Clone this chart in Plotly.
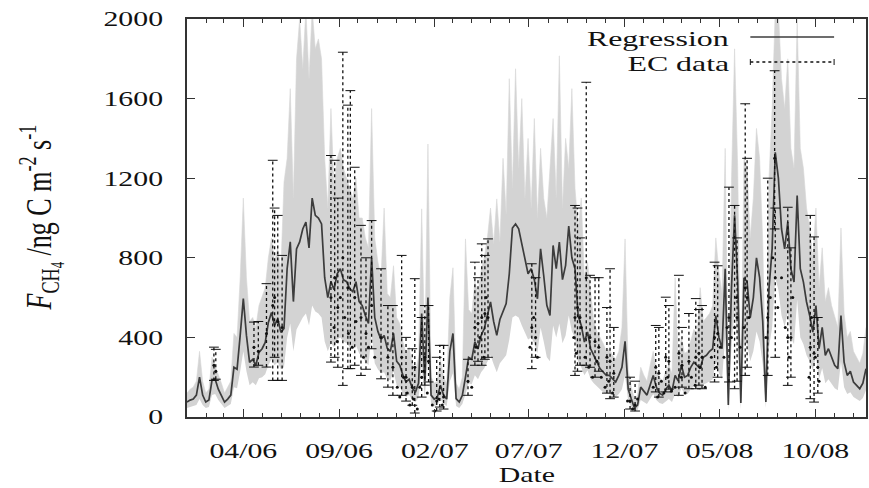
import pandas as pd
import plotly.graph_objects as go

# ---------------- data (5-day grid starting 2006-01-01) ----------------
start = "2006-01-01"

reg = [
    75, 85, 90, 110, 200, 110, 75, 85, 185, 190,
    140, 110, 75, 90, 110, 250, 240, 410, 595, 410,
    275, 290, 260, 325, 343, 375, 475, 525, 460, 495,
    425, 445, 745, 880, 580, 845, 880, 945, 980, 850,
    1100, 1013, 1000, 970, 700, 600, 680, 640, 720, 745,
    690, 680, 645, 630, 680, 580, 560, 510, 470, 800,
    500, 430, 390, 410, 345, 330, 420, 280, 260, 210,
    176, 190, 145, 125, 170, 520, 180, 600, 110, 90,
    100, 160, 110, 90, 330, 420, 92, 75, 109, 200,
    300, 290, 377, 343, 410, 444, 510, 578, 480, 410,
    490, 530, 570, 720, 950, 970, 946, 870, 790, 720,
    745, 690, 594, 845, 711, 561, 510, 862, 745, 879,
    690, 762, 960, 800, 745, 510, 460, 377, 427, 343,
    310, 276, 243, 226, 209, 209, 192, 176, 209, 250,
    380, 140, 90, 45, 60, 150, 130, 110, 160, 209,
    150, 120, 110, 140, 160, 130, 209, 180, 260, 200,
    209, 250, 276, 260, 243, 300, 310, 330, 343, 510,
    400, 343, 745, 60, 645, 1013, 678, 70, 700, 678,
    500, 600, 800, 700, 480, 75, 645, 845, 1330, 1200,
    945, 845, 980, 745, 678, 1113, 745, 678, 578, 510,
    427, 560, 343, 450, 310, 343, 300, 260, 243, 510,
    276, 209, 230, 176, 159, 142, 170, 243,
]

band_lo = [
    45, 50, 55, 60, 90, 60, 45, 50, 110, 115,
    85, 65, 45, 55, 65, 150, 145, 230, 330, 230,
    160, 175, 160, 195, 200, 215, 260, 290, 260, 275,
    240, 250, 400, 470, 330, 440, 470, 500, 520, 460,
    560, 530, 520, 500, 380, 330, 370, 350, 390, 400,
    380, 370, 350, 340, 360, 320, 300, 280, 260, 420,
    270, 240, 220, 225, 190, 185, 230, 160, 150, 120,
    100, 110, 85, 75, 95, 260, 100, 300, 65, 55,
    60, 90, 65, 55, 180, 220, 55, 45, 65, 115,
    170, 165, 210, 190, 225, 245, 280, 310, 265, 225,
    270, 290, 310, 390, 500, 510, 500, 460, 420, 390,
    400, 370, 320, 450, 380, 300, 280, 460, 400, 470,
    370, 410, 510, 430, 400, 280, 250, 210, 235, 190,
    170, 155, 135, 125, 115, 115, 105, 100, 115, 140,
    210, 80, 50, 25, 35, 85, 75, 65, 90, 115,
    85, 70, 65, 80, 90, 75, 115, 100, 145, 115,
    115, 140, 155, 145, 135, 165, 170, 180, 190, 280,
    220, 190, 400, 35, 350, 540, 370, 40, 380, 370,
    280, 330, 430, 380, 265, 45, 350, 450, 700, 640,
    510, 455, 525, 400, 365, 590, 400, 365, 310, 280,
    235, 300, 190, 245, 170, 190, 165, 145, 135, 280,
    150, 115, 125, 100, 90, 80, 95, 135,
]

band_hi = [
    120, 140, 150, 180, 330, 180, 120, 140, 300, 260,
    220, 170, 120, 150, 180, 420, 400, 700, 1100, 700,
    480, 500, 450, 560, 600, 650, 800, 900, 780, 850,
    740, 1180, 1300, 1650, 1100, 1800, 2000, 1750, 2050, 1700,
    2050, 1850, 1900, 1800, 1300, 1050, 1550, 1150, 1300, 1350,
    1250, 1200, 1150, 1100, 1200, 1000, 1000, 900, 850, 1550,
    900, 780, 700, 1050, 620, 600, 760, 500, 470, 380,
    320, 350, 270, 230, 300, 1046, 330, 1372, 200, 170,
    180, 290, 200, 170, 600, 750, 170, 140, 200, 895,
    540, 520, 680, 620, 740, 800, 900, 1050, 870, 1096,
    880, 1300, 1020, 1700, 1150, 1750, 1250, 1600, 1100, 1400,
    1050, 1500, 1000, 1350, 1100, 1000, 1250, 1500, 1100, 1815,
    1050, 1400, 1250, 1650, 1150, 950, 1100, 700, 780, 620,
    480, 430, 400, 370, 330, 340, 310, 290, 330, 450,
    895, 240, 150, 90, 110, 250, 210, 180, 260, 330,
    240, 200, 180, 230, 260, 220, 700, 290, 400, 320,
    330, 390, 440, 420, 650, 480, 500, 520, 560, 900,
    730, 620, 1350, 120, 1180, 1850, 1250, 130, 1300, 1250,
    900, 1100, 1450, 1300, 880, 150, 1200, 1550, 2050, 2050,
    1700, 1550, 1800, 1350, 1250, 2000, 1350, 1250, 1050, 950,
    800, 1050, 650, 850, 580, 650, 560, 500, 450, 950,
    520, 400, 430, 330, 300, 270, 320, 450,
]

# EC data with error limits: day offset from start, value, lower, upper
ec_day = [43, 46, 107, 114, 127, 137, 140, 145, 152,
          230, 236, 241, 249, 257, 261, 268, 278, 286, 295, 310, 321, 329, 343, 350, 360,
          364, 375, 380, 386, 399, 404, 410, 449, 460, 465, 471, 476, 481,
          551, 557, 620, 624, 628, 638, 644, 652, 658, 671, 676, 682, 708, 716,
          749, 754, 765, 770, 786, 791, 802, 813, 818, 823, 843, 848, 866, 875, 879, 892, 895,
          928, 939, 940, 960, 965, 996, 1002, 1008]
ec_val = [260, 230, 350, 330, 420, 560, 600, 480, 450,
          600, 700, 550, 800, 650, 700, 600, 500, 420, 560, 400, 300, 250, 300, 200, 150,
          250, 200, 300, 280, 80, 120, 100, 180, 450, 470, 500, 520, 500,
          450, 400, 500, 550, 500, 700, 400, 380, 350, 300, 280, 220, 80, 60,
          250, 220, 300, 280, 320, 260, 280, 300, 320, 300, 400, 420, 500, 450, 500, 650, 600,
          500, 1300, 700, 400, 400, 350, 320, 250]
ec_lo = [184, 190, 251, 260, 251, 184, 300, 184, 184,
         276, 300, 250, 159, 243, 243, 260, 209, 240, 343, 192, 150, 109, 109, 80, 59,
         20, 100, 160, 176, 30, 50, 40, 109, 260, 280, 260, 290, 300,
         243, 300, 209, 230, 260, 260, 250, 200, 230, 120, 92, 100, 40, 30,
         126, 100, 126, 140, 109, 150, 142, 142, 160, 142, 176, 200, 176, 142, 180, 209, 250,
         209, 945, 300, 159, 200, 92, 75, 120]
ec_hi = [351, 340, 477, 480, 670, 1290, 1050, 1013, 812,
         1314, 1290, 1100, 1833, 1567, 1640, 1255, 963, 800, 987, 745, 560, 560, 812, 400, 343,
         695, 500, 560, 560, 300, 360, 360, 290, 778, 700, 870, 812, 895,
         770, 700, 1063, 1050, 900, 1682, 712, 700, 700, 550, 745, 450, 200, 180,
         460, 450, 602, 560, 712, 450, 520, 595, 540, 560, 778, 760, 1155, 1063, 900, 1574, 1300,
         1200, 1740, 1050, 1054, 850, 1013, 905, 500]

# further EC observations (dense clusters of points)
ec_pt_day = [235, 240, 245, 252, 258, 264, 270, 282, 290, 300,
             336, 340, 346, 352, 356, 362, 368, 372, 378, 384, 392, 396, 402, 408,
             455, 462, 468, 474, 478, 548, 554, 560,
             618, 622, 630, 636, 642, 648, 655, 662, 668, 674, 680, 704, 712, 720,
             745, 752, 758, 762, 768, 774, 780, 790, 796, 806, 812, 820, 828, 838,
             846, 852, 858, 863, 870, 878, 884, 890, 898,
             925, 932, 936, 944, 950, 956, 962, 968, 994, 998, 1004, 1010]
ec_pt_val = [450, 380, 600, 500, 420, 350, 480, 300, 350, 300,
             150, 100, 200, 120, 60, 90, 40, 150, 230, 120, 60, 30, 90, 60,
             150, 350, 400, 300, 600, 350, 500, 300,
             400, 320, 450, 300, 250, 200, 280, 200, 150, 180, 120, 80, 40, 90,
             150, 100, 180, 120, 200, 130, 150, 200, 120, 200, 160, 250, 150, 300,
             250, 350, 300, 450, 400, 600, 350, 450, 500,
             400, 600, 800, 550, 700, 450, 300, 600, 200, 500, 300, 180]

x_tick_format = "%m/%y"

# ---------------- figure ----------------
dates = pd.date_range(start, periods=len(reg), freq="5D")
t0 = pd.Timestamp(start)
ec_dates = [t0 + pd.Timedelta(days=d) for d in ec_day]
ec_pt_dates = [t0 + pd.Timedelta(days=d) for d in ec_pt_day]

FONT = "Liberation Serif, Times New Roman, serif"
fig = go.Figure()

# uncertainty band
fig.add_trace(go.Scatter(x=dates, y=band_lo, mode="lines", line=dict(width=0),
                         hoverinfo="skip", showlegend=False))
fig.add_trace(go.Scatter(x=dates, y=band_hi, mode="lines", line=dict(width=0.6, color="#d6d6d6"),
                         fill="tonexty", fillcolor="#d3d3d3", hoverinfo="skip", showlegend=False))

# regression line
fig.add_trace(go.Scatter(x=dates, y=reg, mode="lines", name="Regression",
                         line=dict(color="#3c3c3c", width=1.7), showlegend=False))

# EC error bars (dotted with caps)
bx, by = [], []
for d, lo, hi in zip(ec_dates, ec_lo, ec_hi):
    bx += [d, d, None]
    by += [lo, hi, None]
fig.add_trace(go.Scatter(x=bx, y=by, mode="lines+markers", name="EC data",
                         line=dict(color="#111111", width=1.3, dash="dot"),
                         marker=dict(symbol="line-ew", size=7,
                                     line=dict(width=1, color="#111111")),
                         showlegend=False))
fig.add_trace(go.Scatter(x=ec_dates + ec_pt_dates, y=ec_val + ec_pt_val, mode="markers",
                         marker=dict(symbol="circle", size=3, color="#111111"),
                         showlegend=False))

# legend drawn gnuplot style (text then sample)
L, R, T, B = 187, 868, 19, 417
def px(x):
    return (x - L) / (R - L)
def py(y):
    return (B - y) / (B - T)

annotations = [
    dict(text="Regression", x=px(733), y=py(38), xref="paper", yref="paper",
         xanchor="right", yanchor="middle", showarrow=False,
         font=dict(family=FONT, size=22, color="#111")),
    dict(text="EC data", x=px(733), y=py(63), xref="paper", yref="paper",
         xanchor="right", yanchor="middle", showarrow=False,
         font=dict(family=FONT, size=22, color="#111")),
    dict(text="<i>F</i><sub>CH<sub>4</sub></sub> /ng C m<sup>-2</sup> s<sup>-1</sup>",
         x=px(40), y=py(217), xref="paper", yref="paper", textangle=-90,
         xanchor="center", yanchor="middle", showarrow=False,
         font=dict(family=FONT, size=26, color="#111")),
    dict(text="Date", x=px(528), y=py(475), xref="paper", yref="paper",
         xanchor="center", yanchor="middle", showarrow=False,
         font=dict(family=FONT, size=21, color="#111")),
]
shapes = [
    dict(type="line", xref="paper", yref="paper", x0=px(752), x1=px(836), y0=py(37), y1=py(37),
         line=dict(color="#3c3c3c", width=1.5)),
    dict(type="line", xref="paper", yref="paper", x0=px(752), x1=px(836), y0=py(62), y1=py(62),
         line=dict(color="#111", width=1.3, dash="dot")),
    dict(type="line", xref="paper", yref="paper", x0=px(752), x1=px(752), y0=py(59), y1=py(65),
         line=dict(color="#111", width=1)),
    dict(type="line", xref="paper", yref="paper", x0=px(836), x1=px(836), y0=py(59), y1=py(65),
         line=dict(color="#111", width=1)),
]

fig.update_layout(
    width=869, height=488,
    margin=dict(l=L, r=869 - R, t=T, b=488 - B),
    plot_bgcolor="white", paper_bgcolor="white",
    font=dict(family=FONT, size=20, color="#111"),
    annotations=annotations, shapes=shapes,
    showlegend=False,
)
fig.update_xaxes(
    type="date", range=["2006-01-01", "2008-12-21"],
    tick0="2006-04-01", dtick="M5", tickformat=x_tick_format,
    ticks="inside", ticklen=8, tickwidth=1.2, tickcolor="#333",
    minor=dict(dtick="M1", tick0="2006-01-01", ticks="inside", ticklen=4,
               tickcolor="#333", showgrid=False),
    showline=True, linecolor="#333", linewidth=1.5, mirror="ticks",
    showgrid=False, zeroline=False, ticklabelstandoff=14,
    tickfont=dict(family=FONT, size=21),
)
fig.update_yaxes(
    range=[0, 2000], tick0=0, dtick=400,
    ticks="inside", ticklen=8, tickwidth=1.2, tickcolor="#333",
    showline=True, linecolor="#333", linewidth=1.5, mirror="ticks",
    showgrid=False, zeroline=False, ticklabelstandoff=18,
    tickfont=dict(family=FONT, size=21),
)

# the reference typesetting is horizontally stretched; widen the glyphs the same way
post_js = """
var gd = document.getElementById('{plot_id}');
function widen(el, origin, tf) {
  el.style.transformBox = 'fill-box';
  el.style.transformOrigin = origin;
  el.style.transform = tf;
}
function widenAttr(el, sx, right) {
  var tr = el.getAttribute('transform') || '';
  var bb = el.getBBox();
  var cx = right ? (bb.x + bb.width) : (bb.x + bb.width / 2);
  el.setAttribute('transform', tr + ' translate(' + cx + ',0) scale(' + sx + ',1) translate(' + (-cx) + ',0)');
}
gd.querySelectorAll('g.xtick text').forEach(function(t){ widenAttr(t, 1.42, false); });
gd.querySelectorAll('g.ytick text').forEach(function(t){ widenAttr(t, 1.42, true); });
var anns = gd.querySelectorAll('g.annotation');
anns.forEach(function(a, i){
  var t = a.querySelector('text');
  if (!t) return;
  if (i === 0 || i === 1) widen(t, '100% 50%', 'scaleX(1.45)');
  else if (i === 2) widen(t, '50% 50%', 'scaleY(1.4)');
  else widen(t, '50% 50%', 'scaleX(1.42)');
});
"""

fig.write_html("out.html", post_script=post_js)
